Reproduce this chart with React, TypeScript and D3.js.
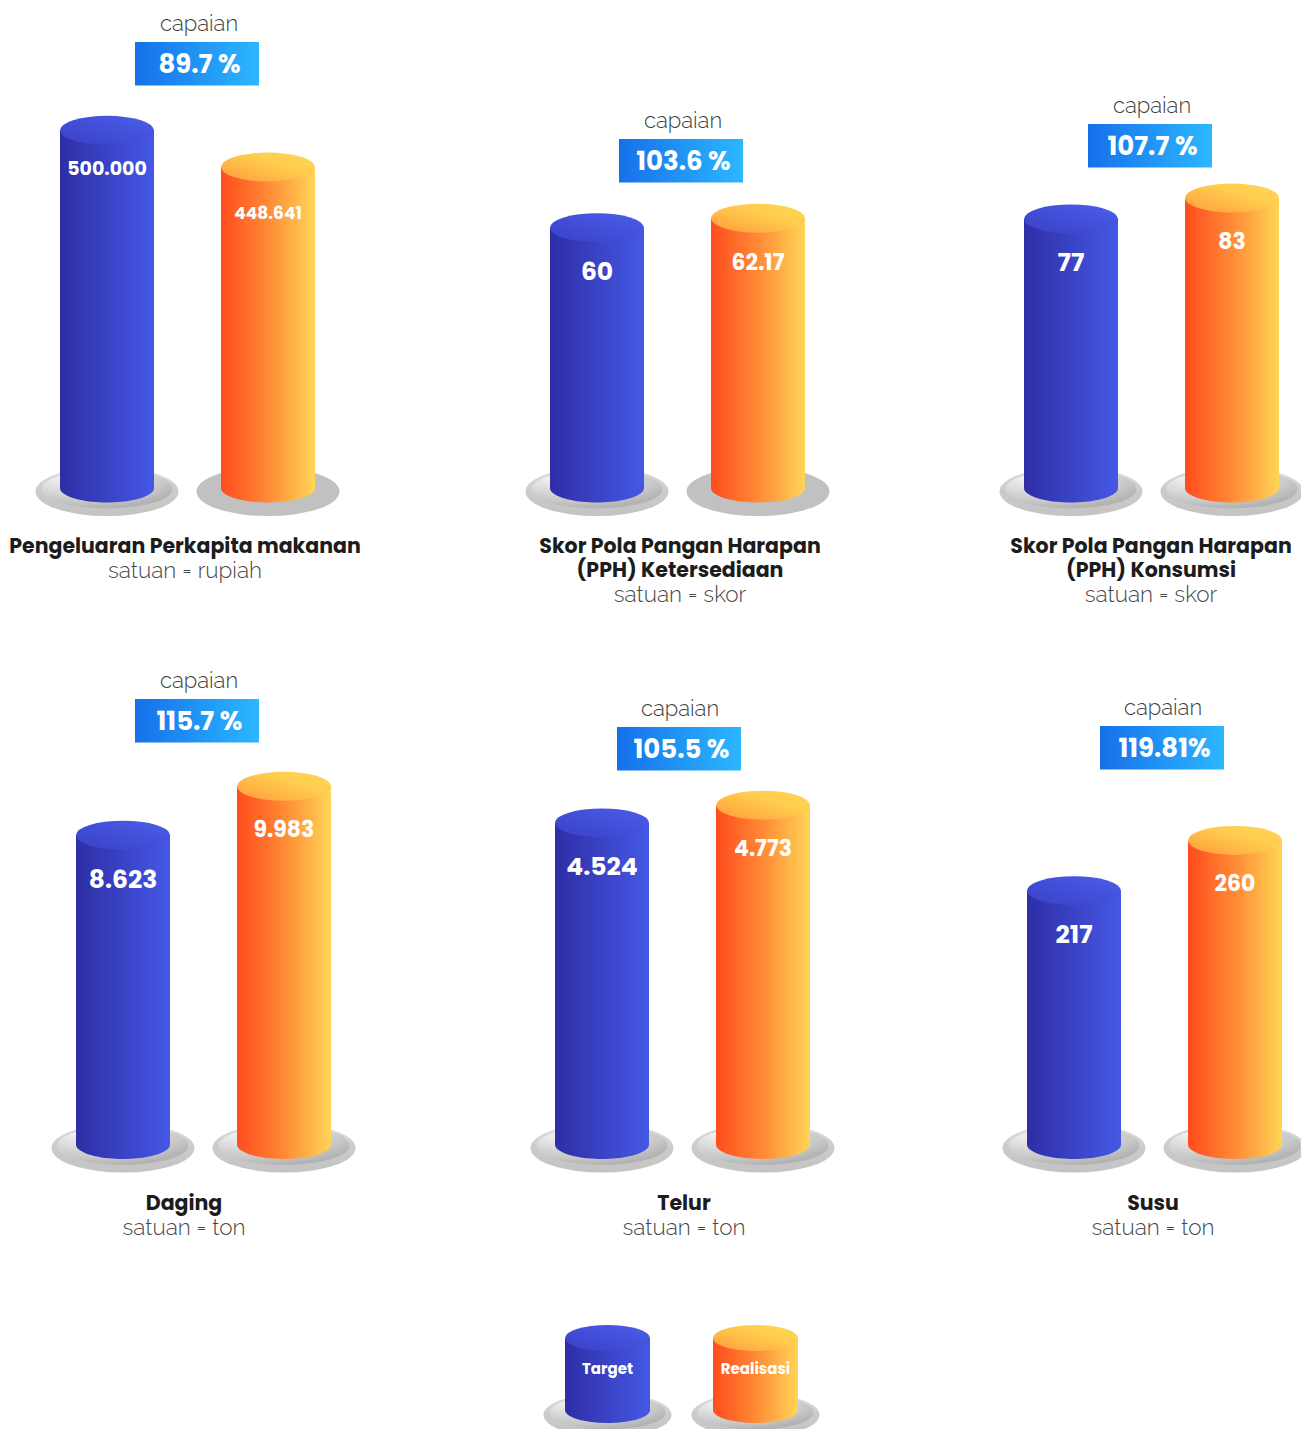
import React from "react";
import * as d3 from "d3";

// ---------- data ----------
const seriesNames = ["Target", "Realisasi"];
const titles = [
  ["Pengeluaran Perkapita makanan"],
  ["Skor Pola Pangan Harapan", "(PPH) Ketersediaan"],
  ["Skor Pola Pangan Harapan", "(PPH) Konsumsi"],
  ["Daging"],
  ["Telur"],
  ["Susu"],
];
const units = ["rupiah", "skor", "skor", "ton", "ton", "ton"];
const targetValues = [500000, 60, 77, 8623, 4524, 217];
const realisasiValues = [448641, 62.17, 83, 9983, 4773, 260];
const targetLabels = ["500.000", "60", "77", "8.623", "4.524", "217"];
const realisasiLabels = ["448.641", "62.17", "83", "9.983", "4.773", "260"];
const capaianLabels = ["89.7 %", "103.6 %", "107.7 %", "115.7 %", "105.5 %", "119.81%"];
// scale domain maximum per panel (each panel has its own value scale)
const scaleMax = [559200, 92.2, 114.5, 11150, 5627, 342];

// ---------- layout ----------
const W = 1301;
const H = 1429;
const RANGE = 400;
const RX = 47;
const RY = 14.5;
const layout = [
  { mid: 187.5, baseY: 488, capX: 199, boxX: 197, boxY: 42, titleX: 185, titleY: 553, fonts: [19, 17], dy: [38, 46], flat: [false, true] },
  { mid: 677.5, baseY: 488, capX: 683, boxX: 681, boxY: 139, titleX: 680, titleY: 553, fonts: [25, 22], dy: [43.5, 44], flat: [false, true] },
  { mid: 1151.5, baseY: 488, capX: 1152, boxX: 1150, boxY: 124, titleX: 1151, titleY: 553, fonts: [25, 22], dy: [43.5, 43.5], flat: [false, false] },
  { mid: 203.5, baseY: 1144.5, capX: 199, boxX: 197, boxY: 699, titleX: 184, titleY: 1210, fonts: [25, 22], dy: [44.5, 43.5], flat: [false, false] },
  { mid: 682.5, baseY: 1144.5, capX: 680, boxX: 679, boxY: 727, titleX: 684, titleY: 1210, fonts: [25, 22], dy: [43.5, 43.5], flat: [false, false] },
  { mid: 1154.5, baseY: 1144.5, capX: 1163, boxX: 1162, boxY: 726, titleX: 1153, titleY: 1210, fonts: [25, 22], dy: [43.5, 43.5], flat: [false, false] },
];

const BOLD = "Poppins, Inter, 'Noto Sans', sans-serif";
const LIGHT = "Raleway, Lato, 'Open Sans', sans-serif";

function cylPath(cx: number, topCy: number, botCy: number, rx: number, ry: number) {
  const p = d3.path();
  p.moveTo(cx - rx, topCy);
  p.lineTo(cx - rx, botCy);
  const steps = 40;
  for (let i = 1; i <= steps; i++) {
    const a = Math.PI - (Math.PI * i) / steps;
    p.lineTo(cx + rx * Math.cos(a), botCy + ry * Math.sin(a));
  }
  p.lineTo(cx + rx, topCy);
  p.closePath();
  return p.toString();
}

function Platform({ cx, cy, rx, ry, flat }: { cx: number; cy: number; rx: number; ry: number; flat?: boolean }) {
  if (flat) return <ellipse cx={cx} cy={cy} rx={rx} ry={ry} fill="#c1c1c1" />;
  return (
    <g>
      <ellipse cx={cx} cy={cy} rx={rx} ry={ry} fill="url(#platOuter)" />
      <ellipse cx={cx} cy={cy - 2.5} rx={rx - 6} ry={ry - 5} fill="url(#platInner)" />
    </g>
  );
}

function Cylinder({ cx, topCy, botCy, rx, ry, kind }: any) {
  const body = kind === 0 ? "url(#blueBody)" : "url(#orangeBody)";
  const top = kind === 0 ? "url(#blueTop)" : "url(#orangeTop)";
  return (
    <g>
      <path d={cylPath(cx, topCy, botCy, rx, ry)} fill={body} />
      <ellipse cx={cx} cy={topCy} rx={rx} ry={ry} fill={top} />
    </g>
  );
}

export default function App() {
  const valuesBySeries = [targetValues, realisasiValues];
  const labelsBySeries = [targetLabels, realisasiLabels];

  return (
    <svg
      width={W}
      height={H}
      viewBox={`0 0 ${W} ${H}`}
      style={{ position: "absolute", left: 0, top: 0, background: "#fff" }}
    >
      <defs>
        <linearGradient id="blueBody" x1="0" y1="0" x2="1" y2="0">
          <stop offset="0" stopColor="#2e2ea5" />
          <stop offset="1" stopColor="#4558e5" />
        </linearGradient>
        <linearGradient id="blueTop" x1="0" y1="1" x2="1" y2="0">
          <stop offset="0" stopColor="#3a40c6" />
          <stop offset="1" stopColor="#4a5eea" />
        </linearGradient>
        <linearGradient id="orangeBody" x1="0" y1="0" x2="1" y2="0">
          <stop offset="0" stopColor="#ff4c1d" />
          <stop offset="0.5" stopColor="#ff8a35" />
          <stop offset="1" stopColor="#ffd556" />
        </linearGradient>
        <linearGradient id="orangeTop" x1="0" y1="1" x2="1" y2="0">
          <stop offset="0" stopColor="#ff9a3c" />
          <stop offset="0.6" stopColor="#ffcc4e" />
          <stop offset="1" stopColor="#ffd656" />
        </linearGradient>
        <linearGradient id="boxGrad" x1="0" y1="0" x2="1" y2="0">
          <stop offset="0" stopColor="#1670ea" />
          <stop offset="1" stopColor="#2cb7ff" />
        </linearGradient>
        <linearGradient id="platOuter" x1="0" y1="0" x2="0" y2="1">
          <stop offset="0" stopColor="#dedede" />
          <stop offset="0.5" stopColor="#cbcbcb" />
          <stop offset="1" stopColor="#c3c3c3" />
        </linearGradient>
        <radialGradient id="platInner" cx="0.3" cy="0.15" r="0.85">
          <stop offset="0" stopColor="#ffffff" />
          <stop offset="0.45" stopColor="#dedede" />
          <stop offset="0.8" stopColor="#c6c6c6" />
          <stop offset="1" stopColor="#b3b3b3" />
        </radialGradient>
      </defs>

      {layout.map((L, i) => {
        const x = d3.scaleBand<string>().domain(seriesNames).range([L.mid - 161, L.mid + 161]).padding(0);
        const h = d3.scaleLinear().domain([0, scaleMax[i]]).range([0, RANGE]);
        return (
          <g key={i}>
            <text x={L.capX} y={L.boxY - 11} textAnchor="middle" fontFamily={LIGHT} fontWeight={300} fontSize={22} fill="#3d3d3d">
              capaian
            </text>
            <rect x={L.boxX - 62} y={L.boxY} width={124} height={43.5} fill="url(#boxGrad)" />
            <text x={L.boxX + 2.5} y={L.boxY + 31} textAnchor="middle" fontFamily={BOLD} fontWeight={700} fontSize={26} fill="#fff">
              {capaianLabels[i]}
            </text>

            {seriesNames.map((s, k) => {
              const cx = (x(s) as number) + x.bandwidth() / 2;
              const topCy = L.baseY - h(valuesBySeries[k][i]);
              return (
                <g key={s}>
                  <Platform cx={cx} cy={L.baseY + 3.5} rx={71.5} ry={24.5} flat={L.flat[k]} />
                  <Cylinder cx={cx} topCy={topCy} botCy={L.baseY} rx={RX} ry={RY} kind={k} />
                  <text
                    x={cx}
                    y={topCy + L.dy[k]}
                    textAnchor="middle"
                    dominantBaseline="central"
                    fontFamily={BOLD}
                    fontWeight={700}
                    fontSize={L.fonts[k]}
                    fill="#fff"
                  >
                    {labelsBySeries[k][i]}
                  </text>
                </g>
              );
            })}

            {titles[i].map((t, j) => (
              <text key={j} x={L.titleX} y={L.titleY + j * 24} textAnchor="middle" fontFamily={BOLD} fontWeight={700} fontSize={20.5} fill="#1c1c1c">
                {t}
              </text>
            ))}
            <text x={L.titleX} y={L.titleY + titles[i].length * 24.5} textAnchor="middle" fontFamily={LIGHT} fontWeight={300} fontSize={22.5} fill="#474747">
              {"satuan = " + units[i]}
            </text>
          </g>
        );
      })}

      {(() => {
        const lx = d3.scaleBand<string>().domain(seriesNames).range([533.5, 829.5]);
        return seriesNames.map((s, k) => {
          const cx = (lx(s) as number) + lx.bandwidth() / 2;
          return (
            <g key={s}>
              <Platform cx={cx} cy={1415} rx={64} ry={22} />
              <Cylinder cx={cx} topCy={1338} botCy={1410} rx={42.5} ry={13} kind={k} />
              <text x={cx} y={1368} textAnchor="middle" dominantBaseline="central" fontFamily={BOLD} fontWeight={700} fontSize={15} fill="#fff">
                {s}
              </text>
            </g>
          );
        });
      })()}
    </svg>
  );
}
